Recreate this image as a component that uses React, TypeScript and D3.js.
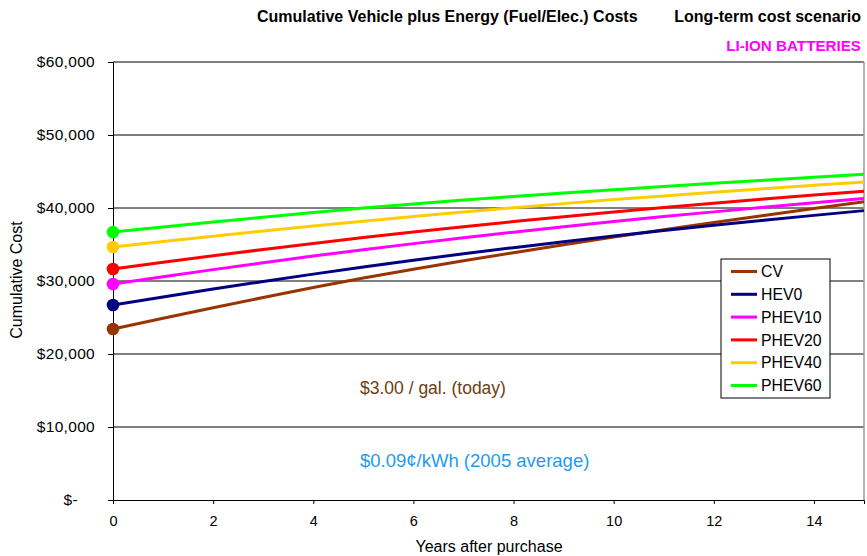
import React, { useEffect, useRef } from 'react';
import * as d3 from 'd3';

const years = [0, 1, 2, 3, 4, 5, 6, 7, 8, 9, 10, 11, 12, 13, 14, 15];

const cv = [23420, 24900, 26340, 27740, 29100, 30420, 31620, 32770, 33880, 34960, 36010, 37020, 38010, 38980, 39930, 40860];
const hev0 = [26710, 27820, 28890, 29930, 30940, 31920, 32840, 33720, 34570, 35390, 36180, 36920, 37630, 38320, 38990, 39640];
const phev10 = [29590, 30590, 31560, 32500, 33410, 34290, 35120, 35920, 36690, 37430, 38140, 38820, 39470, 40100, 40710, 41300];
const phev20 = [31650, 32570, 33460, 34320, 35150, 35950, 36710, 37440, 38140, 38810, 39450, 40070, 40660, 41230, 41780, 42310];
const phev40 = [34650, 35400, 36130, 36840, 37530, 38200, 38830, 39440, 40030, 40600, 41150, 41660, 42150, 42630, 43100, 43560];
const phev60 = [36700, 37400, 38080, 38740, 39380, 40000, 40560, 41090, 41590, 42060, 42510, 42950, 43380, 43800, 44215, 44625];

const seriesNames = ['CV', 'HEV0', 'PHEV10', 'PHEV20', 'PHEV40', 'PHEV60'];
const seriesValues = [cv, hev0, phev10, phev20, phev40, phev60];
const seriesColors = ['#993300', '#000080', '#ff00ff', '#ff0000', '#ffcc00', '#00ff00'];

const yTicks = [0, 10000, 20000, 30000, 40000, 50000, 60000];
const xTicks = [0, 2, 4, 6, 8, 10, 12, 14];

const App = () => {
  const ref = useRef<SVGSVGElement>(null);

  useEffect(() => {
    const svg = d3.select(ref.current);
    svg.selectAll('*').remove();
    const font = 'Liberation Sans, Arial, sans-serif';

    const left = 113, right = 864, top = 62, bottom = 500;
    const x = d3.scaleLinear().domain([0, 15]).range([left, right]);
    const y = d3.scaleLinear().domain([0, 60000]).range([bottom, top]);

    // gridlines
    svg.append('g')
      .selectAll('line')
      .data(yTicks.filter(d => d > 0))
      .enter()
      .append('line')
      .attr('x1', left).attr('x2', right)
      .attr('y1', d => y(d)).attr('y2', d => y(d))
      .attr('stroke', '#000').attr('stroke-width', 1);

    // right border
    svg.append('line')
      .attr('x1', right).attr('x2', right).attr('y1', top).attr('y2', bottom)
      .attr('stroke', '#999').attr('stroke-width', 1.5);

    // y axis
    const yAxis = svg.append('g')
      .attr('transform', `translate(${left},0)`)
      .call(d3.axisLeft(y).tickValues(yTicks).tickSize(5).tickPadding(0)
        .tickFormat(d => (+d === 0 ? '$-' : d3.format('$,')(+d))));
    yAxis.select('.domain').attr('stroke', '#000');
    yAxis.selectAll('text')
      .attr('font-family', font).attr('font-size', 15.5).attr('fill', '#000')
      .attr('x', (d: any) => (d === 0 ? -35 : -18)).attr('letter-spacing', 0.3);

    // x axis
    const xAxis = svg.append('g')
      .attr('transform', `translate(0,${bottom})`)
      .call(d3.axisBottom(x).tickValues(xTicks).tickSize(4).tickPadding(12));
    xAxis.select('.domain').attr('stroke', '#000');
    xAxis.selectAll('text')
      .attr('font-family', font).attr('font-size', 14.5).attr('fill', '#000');

    // lines
    const line = d3.line<number>().x((_, i) => x(years[i])).y(d => y(d));
    seriesValues.forEach((vals, i) => {
      svg.append('path')
        .datum(vals)
        .attr('d', line)
        .attr('fill', 'none')
        .attr('stroke', seriesColors[i])
        .attr('stroke-width', 3);
    });
    seriesValues.forEach((vals, i) => {
      svg.append('circle')
        .attr('cx', x(years[0])).attr('cy', y(vals[0])).attr('r', 6.3)
        .attr('fill', seriesColors[i]);
    });

    // legend
    const lg = svg.append('g').attr('transform', 'translate(721,259)');
    lg.append('rect').attr('width', 109).attr('height', 139)
      .attr('fill', '#fff').attr('stroke', '#000').attr('stroke-width', 1);
    seriesNames.forEach((name, i) => {
      const cy = 12.5 + i * 22.8;
      lg.append('line').attr('x1', 10).attr('x2', 36).attr('y1', cy).attr('y2', cy)
        .attr('stroke', seriesColors[i]).attr('stroke-width', 3);
      lg.append('text').attr('x', 40).attr('y', cy).attr('dy', '0.36em')
        .attr('font-family', font).attr('font-size', 15.8).attr('fill', '#000')
        .text(name);
    });

    // titles
    svg.append('text').attr('x', 257).attr('y', 22)
      .attr('font-family', font).attr('font-size', 16).attr('font-weight', 'bold')
      .text('Cumulative Vehicle plus Energy (Fuel/Elec.) Costs');
    svg.append('text').attr('x', 861).attr('y', 22).attr('text-anchor', 'end')
      .attr('font-family', font).attr('font-size', 16).attr('font-weight', 'bold')
      .text('Long-term cost scenario');
    svg.append('text').attr('x', 861).attr('y', 51).attr('text-anchor', 'end')
      .attr('font-family', font).attr('font-size', 15.2).attr('font-weight', 'bold')
      .attr('fill', '#ff00ff')
      .text('LI-ION BATTERIES');

    svg.append('text')
      .attr('transform', 'translate(22,280) rotate(-90)')
      .attr('text-anchor', 'middle')
      .attr('font-family', font).attr('font-size', 16)
      .text('Cumulative Cost');
    svg.append('text').attr('x', 489).attr('y', 552).attr('text-anchor', 'middle')
      .attr('font-family', font).attr('font-size', 16)
      .text('Years after purchase');

    svg.append('text').attr('x', 360).attr('y', 394)
      .attr('font-family', font).attr('font-size', 17.5).attr('fill', '#6e3d12')
      .text('$3.00 / gal. (today)');
    svg.append('text').attr('x', 360).attr('y', 467)
      .attr('font-family', font).attr('font-size', 18.5).attr('fill', '#1f9bf0')
      .text('$0.09¢/kWh (2005 average)');
  }, []);

  return (
    <svg ref={ref} width={867} height={556}
      style={{ position: 'absolute', left: 0, top: 0, background: '#fff' }} />
  );
};

export default App;
